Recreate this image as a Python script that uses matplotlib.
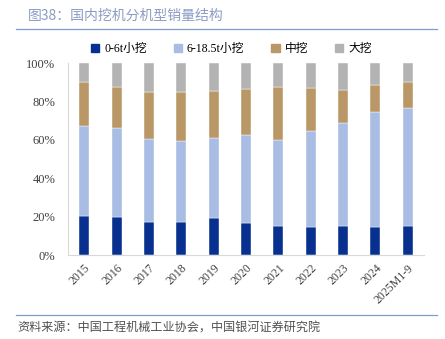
import matplotlib
matplotlib.use("Agg")
import matplotlib.pyplot as plt
from matplotlib.lines import Line2D
import numpy as np

plt.rcParams['font.family'] = ['Liberation Serif', 'Noto Sans CJK SC', 'DejaVu Sans']

categories = ["2015", "2016", "2017", "2018", "2019", "2020",
              "2021", "2022", "2023", "2024", "2025M1-9"]
series_names = ["0-6t小挖", "6-18.5t小挖", "中挖", "大挖"]
# shares in percent
mini = [20.3, 19.8, 17.4, 17.2, 19.4, 16.8, 15.3, 14.4, 15.1, 14.6, 15.3]
small = [47.1, 46.5, 43.2, 42.0, 41.5, 45.5, 44.4, 50.0, 53.6, 59.7, 61.4]
medium = [22.7, 21.4, 24.3, 25.5, 24.7, 24.3, 28.0, 22.8, 17.4, 14.2, 13.4]
large = [9.9, 12.3, 15.1, 15.3, 14.4, 13.4, 12.3, 12.8, 13.9, 11.5, 9.9]
yticks = [0, 20, 40, 60, 80, 100]
title = "图38：国内挖机分机型销量结构"
source = "资料来源：中国工程机械工业协会，中国银河证券研究院"

colors = ["#08318f", "#a9bce3", "#b99766", "#b3b3b3"]

fig = plt.figure(figsize=(4.45, 3.39), dpi=100)
W, H = 445, 339
ax = fig.add_axes([68 / W, 1 - 255 / H, (424 - 68) / W, (255 - 63) / H])

x = np.arange(len(categories))
bottom = np.zeros(len(categories))
for vals, c in zip([mini, small, medium, large], colors):
    ax.bar(x, vals, bottom=bottom, width=0.31, color=c,
           edgecolor="white", linewidth=0.3)
    bottom += np.array(vals)

ax.set_xlim(-0.5, len(categories) - 0.5)
ax.set_ylim(0, 100)
ax.set_yticks(yticks)
ax.set_yticklabels([f"{v}%" for v in yticks], fontsize=9, color="#404040")
ax.set_xticks(x)
ax.set_xticklabels(categories, rotation=45, ha="right", rotation_mode="anchor",
                   fontsize=8.5, color="#404040")
ax.tick_params(axis="y", length=0, pad=9)
ax.tick_params(axis="x", length=0, pad=5)
for s in ["top", "right"]:
    ax.spines[s].set_visible(False)
for s in ["left", "bottom"]:
    ax.spines[s].set_color("#d9d9d9")
    ax.spines[s].set_linewidth(0.8)

# header and footer
fig.text(28 / W, 1 - 16 / H, title, fontsize=10, color="#8a9cc4",
         va="center", ha="left", family=['Noto Sans CJK SC', 'DejaVu Sans'])
fig.add_artist(Line2D([16 / W, 437 / W], [1 - 28.5 / H, 1 - 28.5 / H],
                      color="#7f9bd0", linewidth=0.9))
fig.add_artist(Line2D([16 / W, 437 / W], [1 - 315 / H, 1 - 315 / H],
                      color="#7f9bd0", linewidth=0.9))
fig.text(17 / W, 1 - 328 / H, source, fontsize=8.7, color="#505050",
         va="center", ha="left", style="italic",
         family=['Noto Sans CJK SC', 'DejaVu Sans'])

# legend
handles = [plt.Rectangle((0, 0), 1, 1, color=c) for c in colors]
fig.legend(handles, series_names, loc="center", bbox_to_anchor=(0.52, 1 - 49 / H),
           ncol=4, frameon=False, fontsize=8.5, handlelength=0.7, handleheight=0.7,
           handletextpad=0.4, columnspacing=2.3)

fig.savefig("out.png", dpi=100)
